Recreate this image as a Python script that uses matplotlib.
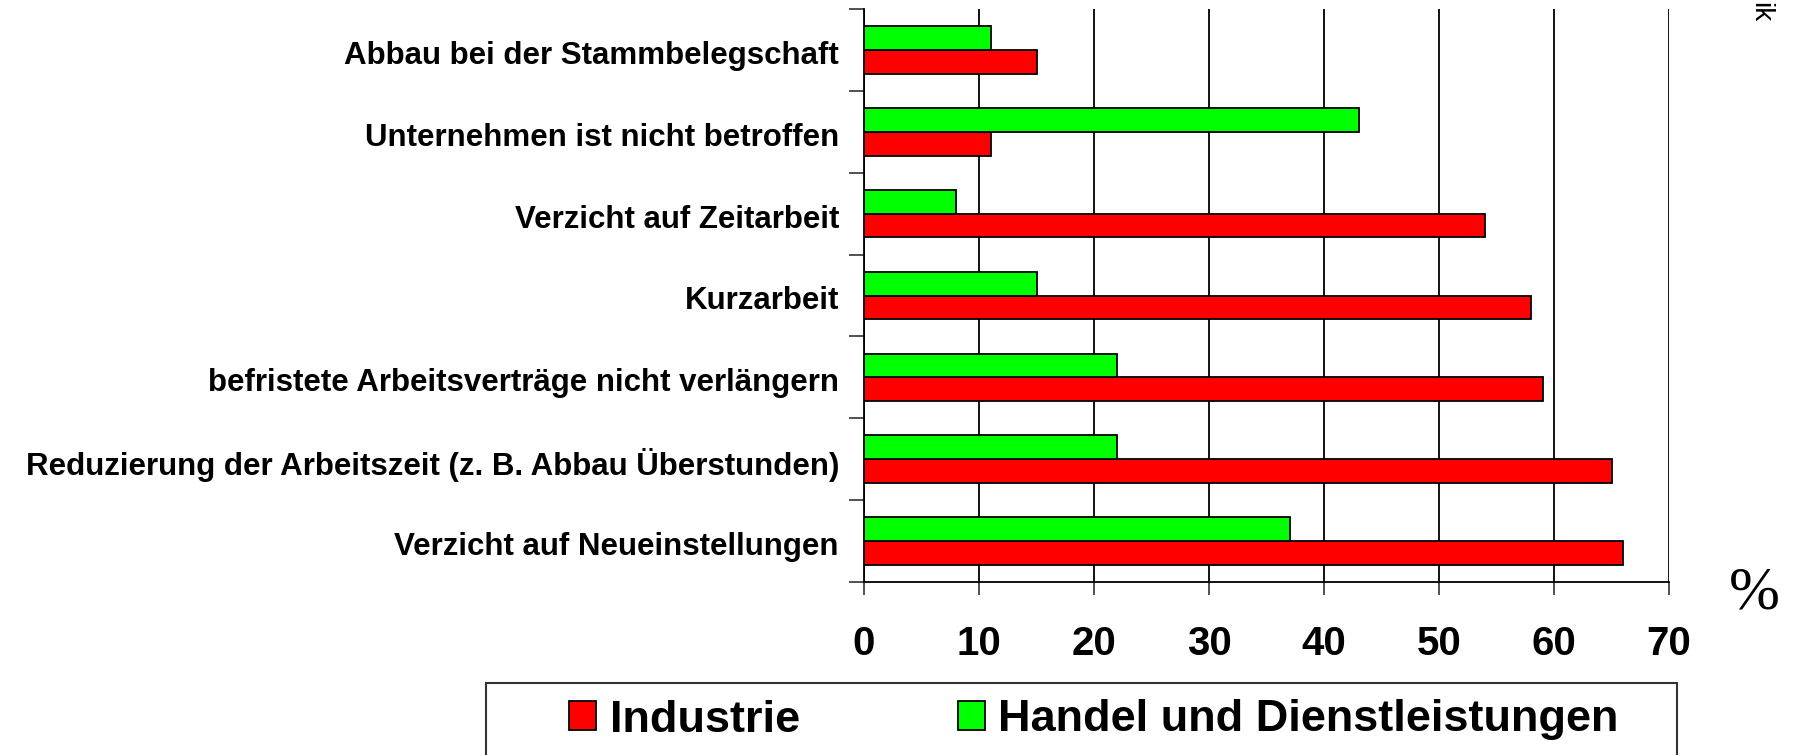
import matplotlib.pyplot as plt
from matplotlib.patches import Rectangle
import numpy as np

# categories from bottom to top
categories = [
    'Verzicht auf Neueinstellungen',
    'Reduzierung der Arbeitszeit (z. B. Abbau Überstunden)',
    'befristete Arbeitsverträge nicht verlängern',
    'Kurzarbeit',
    'Verzicht auf Zeitarbeit',
    'Unternehmen ist nicht betroffen',
    'Abbau bei der Stammbelegschaft',
]
industrie = [66, 65, 59, 58, 54, 11, 15]
handel = [37, 22, 22, 15, 8, 43, 11]
xticks = [0, 10, 20, 30, 40, 50, 60, 70]
series_names = ['Industrie', 'Handel und Dienstleistungen']

plt.rcParams['font.family'] = ['Liberation Sans', 'DejaVu Sans']

W, H = 1795, 755
fig = plt.figure(figsize=(W / 100, H / 100), dpi=100)
ax = fig.add_axes([864 / W, 1 - 582 / H, (1669 - 864) / W, (582 - 9) / H])

base = np.arange(len(categories))
h = 0.29
ax.barh(base + 0.355, industrie, height=h, color='#ff0000', edgecolor='black',
        linewidth=1.3, label=series_names[0], zorder=3)
ax.barh(base + 0.645, handel, height=h, color='#00ff00', edgecolor='black',
        linewidth=1.3, label=series_names[1], zorder=3)

ax.set_xlim(0, 70)
ax.set_ylim(0, len(categories))
ax.set_xticks(xticks)
ax.set_xticklabels([str(v) for v in xticks], fontsize=29, fontweight='bold')
ax.tick_params(axis='x', length=9, width=1.2, pad=22, color='#333333')

ax.set_yticks(np.arange(len(categories) + 1))
ax.set_yticklabels([])
ax.tick_params(axis='y', which='major', length=11, width=1.2, color='#333333')
ax.set_yticks(base + 0.47, minor=True)
ax.set_yticklabels(categories, minor=True, fontsize=22.5, fontweight='bold')
ax.tick_params(axis='y', which='minor', length=0, pad=18)

ax.grid(axis='x', color='black', linewidth=1.3, zorder=0)
ax.set_axisbelow(True)
for s in ['top', 'right']:
    ax.spines[s].set_visible(False)
ax.spines['left'].set_linewidth(1.3)
ax.spines['bottom'].set_linewidth(1.3)
ax.spines['left'].set_zorder(4)

# legend
handles, labels = ax.get_legend_handles_labels()
fig.legend(handles, labels, loc='center left', bbox_to_anchor=(569 / W, 1 - 720 / H),
           ncol=2, frameon=False, borderpad=0, borderaxespad=0,
           prop={'size': 32.5, 'weight': 'bold'}, handlelength=0.6, handleheight=0.6,
           handletextpad=0.3, columnspacing=3.5)
fig.add_artist(Rectangle((486 / W, -0.1), (1677 - 486) / W, 0.1 + 1 - 683 / H,
                         transform=fig.transFigure, fill=False, edgecolor='#333333',
                         linewidth=1.5))

fig.text(1754 / W, 1 - 594 / H, '%', fontsize=44, family='Liberation Serif',
         ha='center', va='center')
fig.text(1760 / W, 1 - 22 / H, 'ik', fontsize=20, rotation=270,
         ha='center', va='bottom')

fig.savefig('out.png', dpi=100)
